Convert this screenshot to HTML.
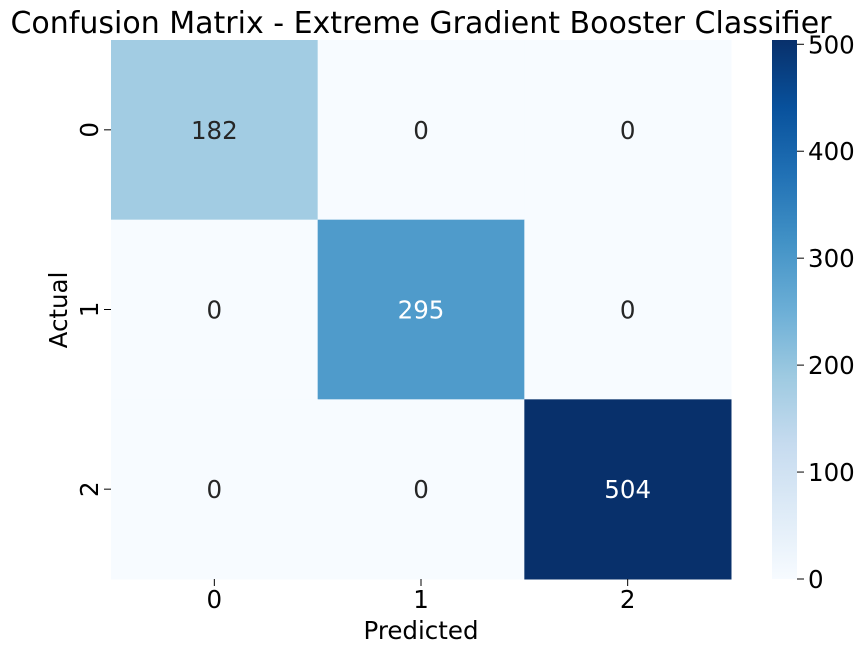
<!DOCTYPE html>
<html><head><meta charset="utf-8"><style>
body{margin:0;background:#fff;}
svg{display:block;font-family:"DejaVu Sans","Liberation Sans",sans-serif;}
</style></head><body>
<svg id="chart" width="864" height="653">
<defs><linearGradient id="blues" x1="0" y1="1" x2="0" y2="0">
<stop offset="0" stop-color="#f7fbff"/><stop offset="0.125" stop-color="#deebf7"/><stop offset="0.25" stop-color="#c6dbef"/><stop offset="0.375" stop-color="#9ecae1"/><stop offset="0.5" stop-color="#6baed6"/><stop offset="0.625" stop-color="#4292c6"/><stop offset="0.75" stop-color="#2171b5"/><stop offset="0.875" stop-color="#08519c"/><stop offset="1" stop-color="#08306b"/>
</linearGradient></defs>
<text x="421" y="33" font-size="30" text-anchor="middle" fill="#000">Confusion Matrix - Extreme Gradient Booster Classifier</text>
<g id="cells"></g>
<text x="421" y="639" font-size="24.5" text-anchor="middle">Predicted</text>
<text transform="translate(67,310) rotate(-90)" font-size="24.5" text-anchor="middle">Actual</text>
<rect x="772" y="40" width="25" height="539" fill="url(#blues)"/>
<g id="cbticks"></g>
</svg>
<script>
const labels = ["0","1","2"];
const matrix = [[182,0,0],[0,295,0],[0,0,504]];
const cbTicks = [0,100,200,300,400,500];
const vmax = 504;
const X0=111,X1=731,Y0=40,Y1=579;
const cw=(X1-X0)/3, ch=(Y1-Y0)/3;
const stops=["#f7fbff","#deebf7","#c6dbef","#9ecae1","#6baed6","#4292c6","#2171b5","#08519c","#08306b"];
function hex(h){return [1,3,5].map(i=>parseInt(h.substr(i,2),16));}
function blues(t){t=Math.max(0,Math.min(1,t));const p=t*8,i=Math.min(7,Math.floor(p)),f=p-i;const a=hex(stops[i]),b=hex(stops[i+1]);return "rgb("+a.map((v,k)=>Math.round(v+(b[k]-v)*f)).join(",")+")";}
const NS="http://www.w3.org/2000/svg";
const g=document.getElementById("cells");
function mk(tag,attrs,parent){const e=document.createElementNS(NS,tag);for(const k in attrs)e.setAttribute(k,attrs[k]);parent.appendChild(e);return e;}
matrix.forEach((row,r)=>row.forEach((v,c)=>{
 const rect=mk("rect",{x:X0+c*cw,y:Y0+r*ch,width:cw+0.5,height:ch+0.5,fill:blues(v/vmax)},g);
 
 
 const t=mk("text",{x:X0+(c+0.5)*cw,y:Y0+(r+0.5)*ch+9,"font-size":24.5,"text-anchor":"middle",fill:v/vmax>0.5?"#fff":"#262626"},g);
 t.textContent=v;
 
 
}));
labels.forEach((l,i)=>{
 const xt=mk("text",{x:X0+(i+0.5)*cw,y:608,"font-size":24.5,"text-anchor":"middle"},g);
 xt.textContent=l;
 
 
 const yc=Y0+(i+0.5)*ch;
 mk("line",{x1:104,x2:111,y1:yc,y2:yc,stroke:"#000","stroke-width":1},g);
 mk("line",{x1:X0+(i+0.5)*cw,x2:X0+(i+0.5)*cw,y1:579,y2:586,stroke:"#000","stroke-width":1},g);
 const yt=mk("text",{transform:"translate(98,"+yc+") rotate(-90)","font-size":24.5,"text-anchor":"middle"},g);
 yt.textContent=l;
 
 
});
const cb=document.getElementById("cbticks");
cbTicks.forEach(v=>{
 const y=Y1-(v/vmax)*(Y1-Y0);
 mk("line",{x1:797,x2:804,y1:y,y2:y,stroke:"#000"},cb);
 const t=mk("text",{x:808,y:y+9,"font-size":24.5},cb);
 t.textContent=v;
 
 
});
</script>
</body></html>
